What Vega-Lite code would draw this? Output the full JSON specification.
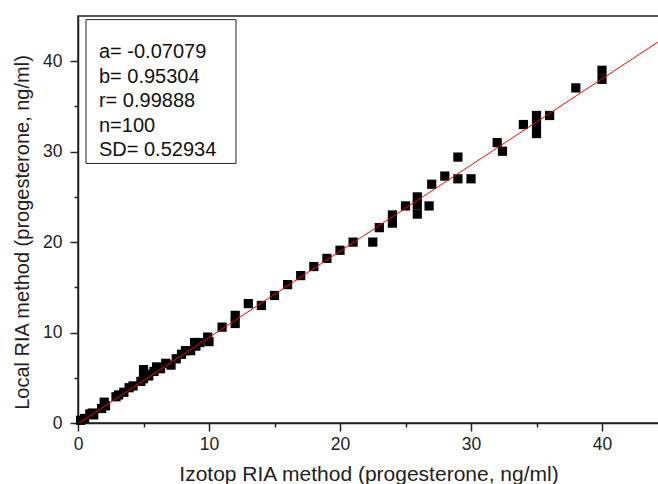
{
  "$schema": "https://vega.github.io/schema/vega-lite/v6.json",
  "width": 581,
  "height": 407,
  "autosize": {"type": "none"},
  "padding": {"left": 78, "top": 16, "right": 0, "bottom": 61},
  "background": "white",
  "config": {
    "font": "Liberation Sans",
    "view": {"stroke": "#222", "strokeWidth": 1.5},
    "axis": {
      "grid": false,
      "domainColor": "#222",
      "domainWidth": 1.5,
      "tickColor": "#222",
      "tickWidth": 1.5,
      "labelFont": "Liberation Sans",
      "labelFontSize": 17.5,
      "labelColor": "#222",
      "titleFont": "Liberation Sans",
      "titleFontWeight": "normal",
      "titleColor": "#222"
    }
  },
  "datasets": {
    "pts": [
      {"izotop": 0.2, "local": 0.3}, {"izotop": 0.5, "local": 0.5}, {"izotop": 0.9, "local": 1.0}, {"izotop": 1.2, "local": 0.9},
      {"izotop": 1.1, "local": 1.1}, {"izotop": 1.8, "local": 1.6}, {"izotop": 2.0, "local": 2.3}, {"izotop": 2.1, "local": 1.9},
      {"izotop": 2.9, "local": 2.9}, {"izotop": 3.1, "local": 3.1}, {"izotop": 3.5, "local": 3.4}, {"izotop": 3.9, "local": 3.9},
      {"izotop": 4.2, "local": 4.1}, {"izotop": 4.8, "local": 4.6}, {"izotop": 5.0, "local": 5.9}, {"izotop": 5.0, "local": 4.9},
      {"izotop": 5.1, "local": 5.4}, {"izotop": 5.4, "local": 5.2}, {"izotop": 5.8, "local": 5.7}, {"izotop": 6.0, "local": 6.2},
      {"izotop": 6.3, "local": 6.0}, {"izotop": 6.7, "local": 6.6}, {"izotop": 7.1, "local": 6.4}, {"izotop": 7.5, "local": 7.1},
      {"izotop": 7.9, "local": 7.6}, {"izotop": 8.2, "local": 8.0}, {"izotop": 8.6, "local": 8.0}, {"izotop": 9.0, "local": 8.5},
      {"izotop": 8.9, "local": 8.9}, {"izotop": 9.3, "local": 8.9}, {"izotop": 9.9, "local": 9.5}, {"izotop": 10.0, "local": 9.0},
      {"izotop": 11.0, "local": 10.6}, {"izotop": 12.0, "local": 11.0}, {"izotop": 12.0, "local": 11.9}, {"izotop": 13.0, "local": 13.2},
      {"izotop": 14.0, "local": 13.0}, {"izotop": 15.0, "local": 14.1}, {"izotop": 16.0, "local": 15.3}, {"izotop": 17.0, "local": 16.3},
      {"izotop": 18.0, "local": 17.3}, {"izotop": 19.0, "local": 18.2}, {"izotop": 20.0, "local": 19.1}, {"izotop": 21.0, "local": 20.0},
      {"izotop": 22.5, "local": 20.0}, {"izotop": 23.0, "local": 21.6}, {"izotop": 24.0, "local": 22.1}, {"izotop": 24.0, "local": 23.0},
      {"izotop": 25.0, "local": 24.0}, {"izotop": 25.9, "local": 23.1}, {"izotop": 25.9, "local": 24.1}, {"izotop": 25.9, "local": 25.0},
      {"izotop": 26.8, "local": 24.0}, {"izotop": 27.0, "local": 26.4}, {"izotop": 28.0, "local": 27.3}, {"izotop": 29.0, "local": 27.0},
      {"izotop": 29.0, "local": 29.4}, {"izotop": 30.0, "local": 27.0}, {"izotop": 32.0, "local": 31.0}, {"izotop": 32.4, "local": 30.05},
      {"izotop": 34.0, "local": 33.0}, {"izotop": 35.0, "local": 32.0}, {"izotop": 35.0, "local": 33.0}, {"izotop": 35.0, "local": 34.0},
      {"izotop": 36.0, "local": 34.0}, {"izotop": 38.0, "local": 37.05}, {"izotop": 40.0, "local": 38.0}, {"izotop": 40.0, "local": 39.0}
    ],
    "fit": [
      {"izotop": 0, "local": -0.07079},
      {"izotop": 44.35, "local": 42.197}
    ],
    "stats": [
      {"label": "a= -0.07079\nb= 0.95304\nr= 0.99888\nn=100\nSD= 0.52934"}
    ]
  },
  "layer": [
    {
      "data": {"name": "pts"},
      "mark": {"type": "point", "shape": "square", "filled": true, "size": 85, "color": "#000", "opacity": 1},
      "encoding": {
        "x": {
          "field": "izotop", "type": "quantitative",
          "scale": {"domain": [0, 44.35], "nice": false, "zero": false},
          "axis": {
            "title": "Izotop RIA method (progesterone, ng/ml)",
            "titleFontSize": 21,
            "values": [0, 5, 10, 15, 20, 25, 30, 35, 40],
            "labelExpr": "datum.value % 10 === 0 ? datum.label : ''",
            "tickSize": {"condition": {"test": "datum.value % 10 === 0", "value": 8}, "value": 4},
            "labelPadding": 4,
            "labelFlush": false,
            "titleY": 57,
            "titleBaseline": "alphabetic"
          }
        },
        "y": {
          "field": "local", "type": "quantitative",
          "scale": {"domain": [0, 45], "nice": false, "zero": false},
          "axis": {
            "title": "Local RIA method (progesterone, ng/ml)",
            "titleFontSize": 20,
            "values": [0, 5, 10, 15, 20, 25, 30, 35, 40],
            "labelExpr": "datum.value % 10 === 0 ? datum.label : ''",
            "tickSize": {"condition": {"test": "datum.value % 10 === 0", "value": 8}, "value": 4},
            "labelPadding": 8,
            "labelFlush": false,
            "titleX": -50,
            "titleY": 216,
            "titleBaseline": "alphabetic"
          }
        }
      }
    },
    {
      "data": {"name": "fit"},
      "mark": {"type": "line", "color": "#ff0000", "strokeWidth": 1, "clip": true},
      "encoding": {
        "x": {"field": "izotop", "type": "quantitative"},
        "y": {"field": "local", "type": "quantitative"}
      }
    },
    {
      "data": {"name": "stats"},
      "mark": {"type": "rect", "fill": "white", "stroke": "#222", "strokeWidth": 1},
      "encoding": {
        "x": {"datum": 0.61, "type": "quantitative"},
        "x2": {"datum": 12.06},
        "y": {"datum": 44.6, "type": "quantitative"},
        "y2": {"datum": 28.7}
      }
    },
    {
      "data": {"name": "stats"},
      "transform": [{"calculate": "split(datum.label, '\\n')", "as": "lines"}],
      "mark": {
        "type": "text",
        "align": "left",
        "baseline": "middle",
        "fontSize": 20,
        "lineHeight": 24.5,
        "color": "#111",
        "font": "Liberation Sans"
      },
      "encoding": {
        "x": {"datum": 1.6, "type": "quantitative"},
        "y": {"datum": 41.0, "type": "quantitative"},
        "text": {"field": "lines"}
      }
    }
  ]
}
